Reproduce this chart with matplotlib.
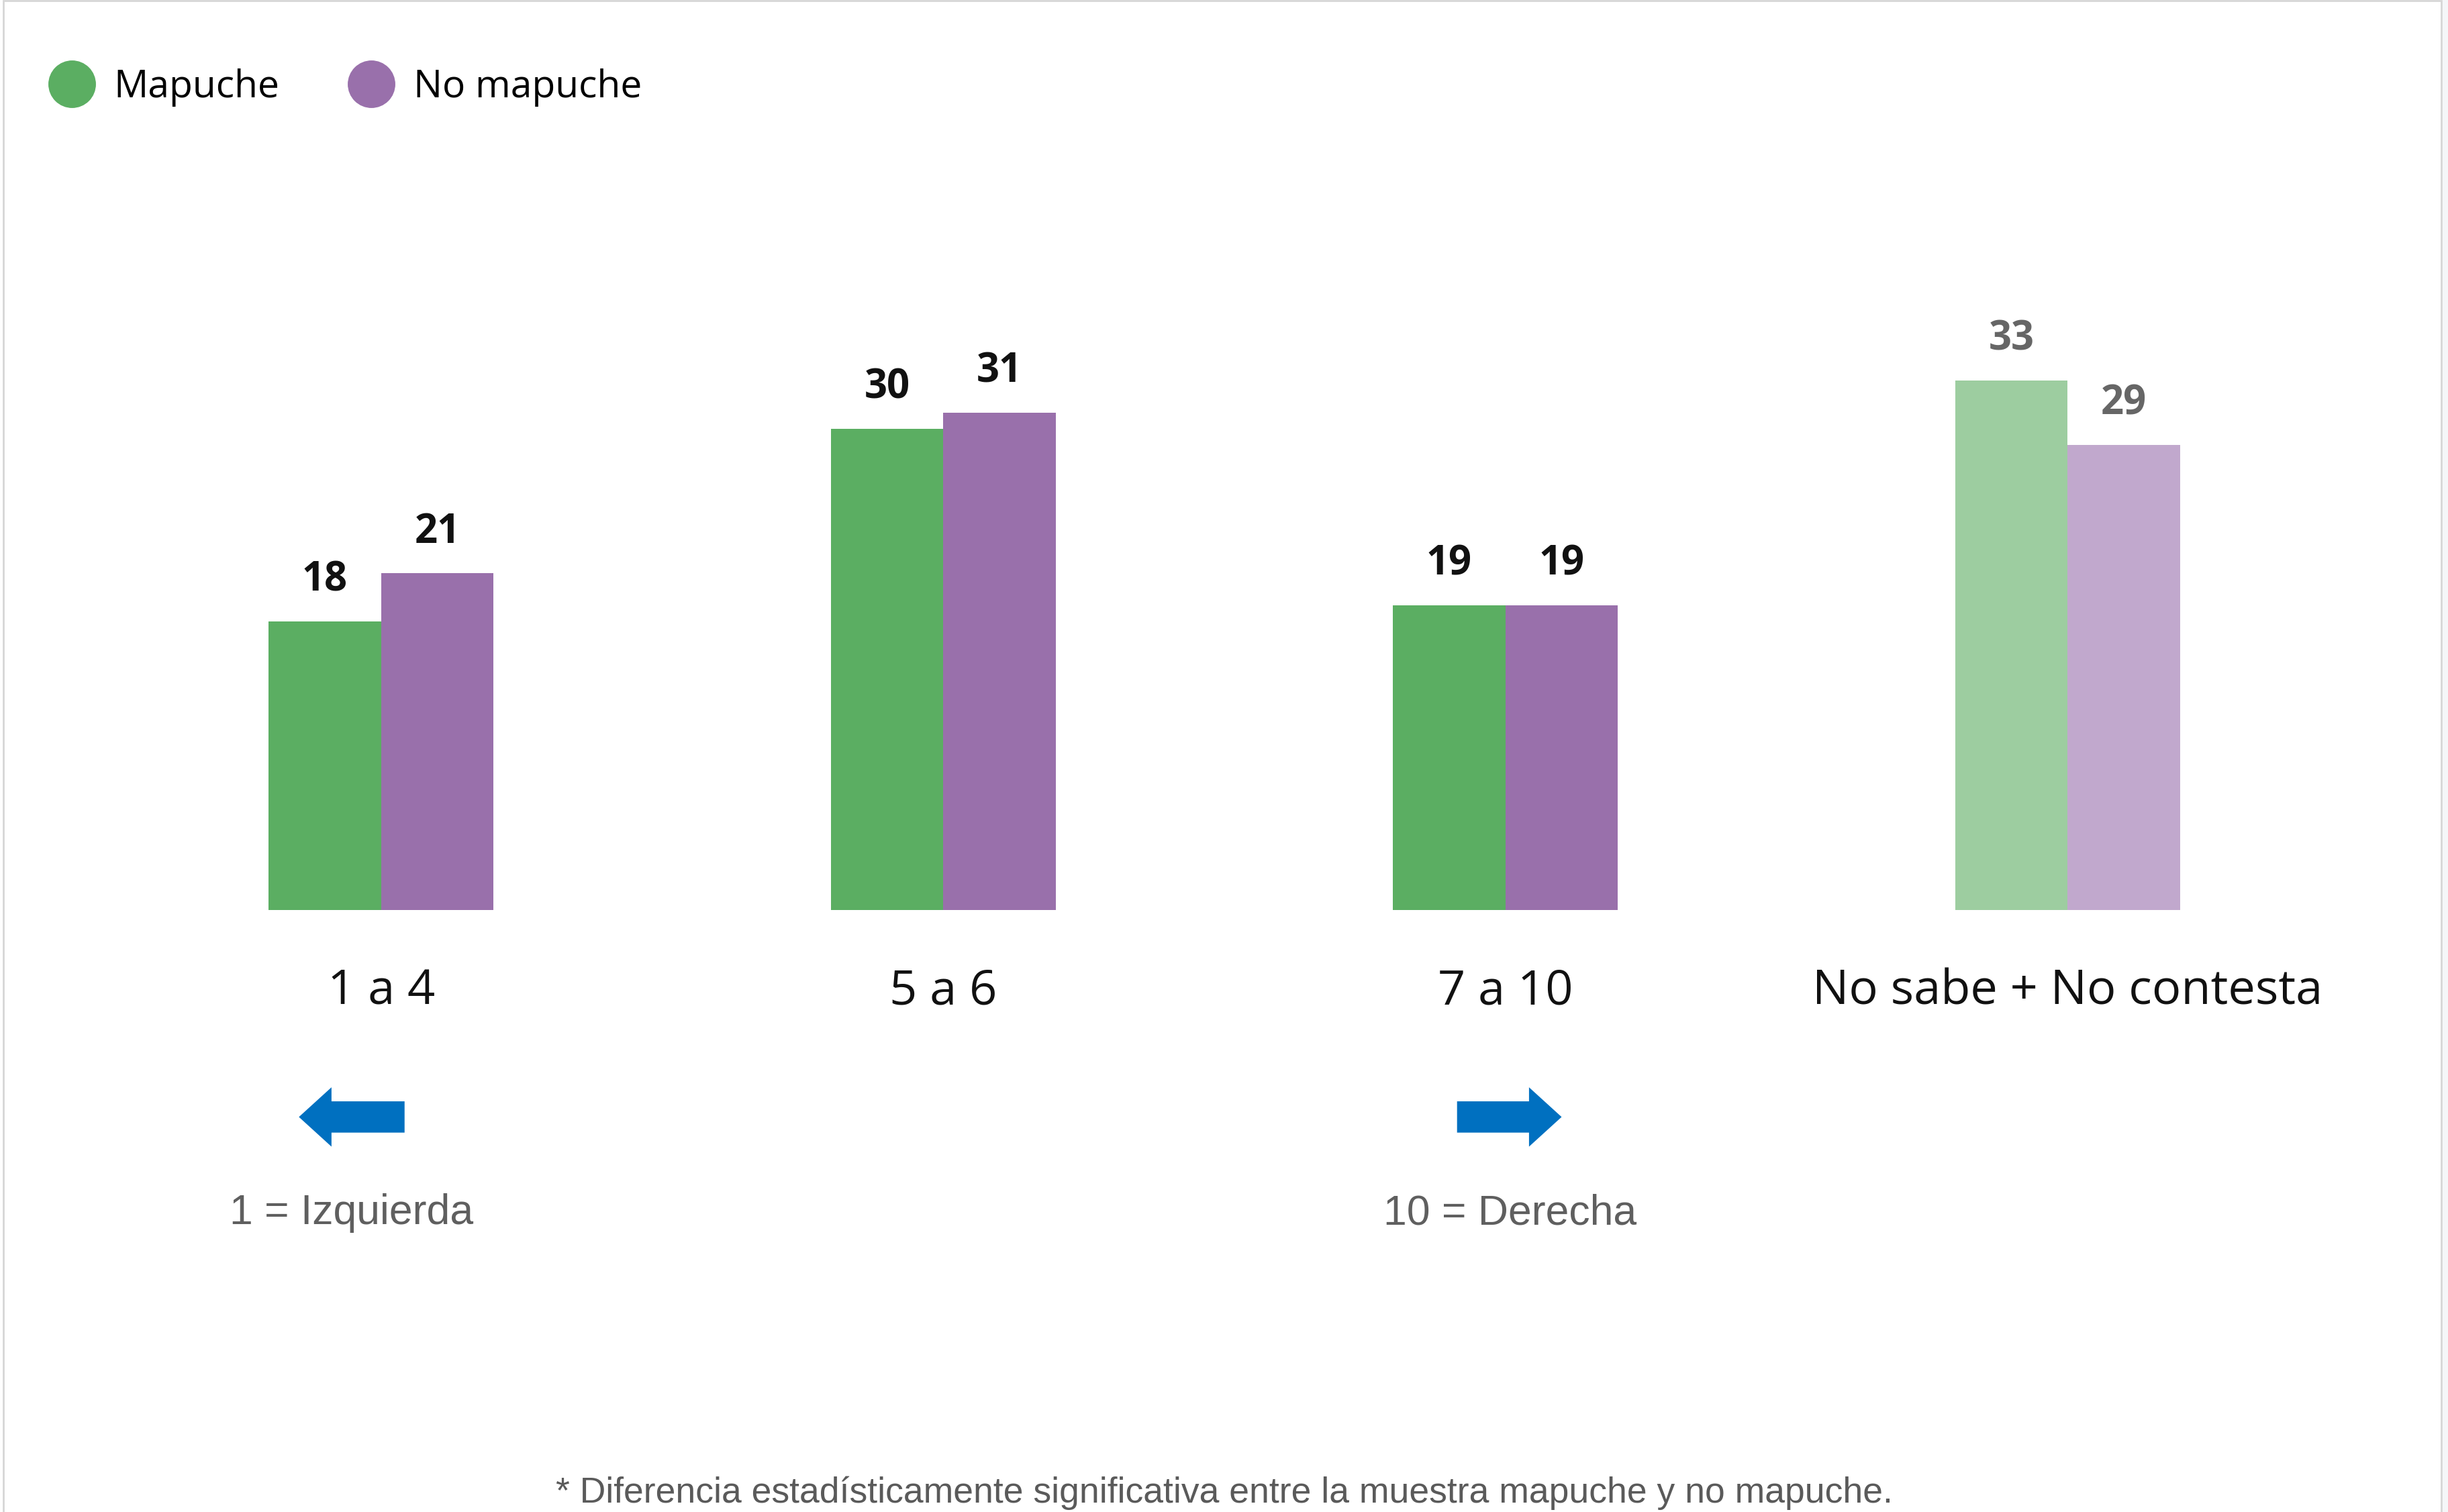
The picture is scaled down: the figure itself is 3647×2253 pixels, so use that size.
import matplotlib
matplotlib.use("Agg")
import matplotlib.pyplot as plt
from matplotlib.patches import FancyArrow, Rectangle
from matplotlib.lines import Line2D

# Datos del gráfico
categorias = ["1 a 4", "5 a 6", "7 a 10", "No sabe + No contesta"]
mapuche = [18, 30, 19, 33]
no_mapuche = [21, 31, 19, 29]
series = ["Mapuche", "No mapuche"]
nota = "* Diferencia estadísticamente significativa entre la muestra mapuche y no mapuche."

verde = ["#5bae62", "#5bae62", "#5bae62", "#9dcda0"]
morado = ["#9970ab", "#9970ab", "#9970ab", "#c1a8cd"]
color_valor = ["#111111", "#111111", "#111111", "#666666"]

W, H = 3648, 2253
fig = plt.figure(figsize=(W / 100, H / 100), dpi=100)
fig.patch.set_facecolor("white")

# marco gris claro
fig.add_artist(Rectangle((0.0015, -0.01), 0.9955, 1.0095, transform=fig.transFigure,
                         fill=False, edgecolor="#d6d6d6", linewidth=2))
fig.add_artist(Rectangle((0.9975, 0), 0.0025, 1, transform=fig.transFigure,
                         facecolor="#f5f6f8", edgecolor="none"))

ax = fig.add_axes([0, 0.3981, 1, 0.4243])
ax.set_xlim(-0.678, 3.678)
ax.set_ylim(0, 40)
ax.axis("off")

x = list(range(len(categorias)))
ancho = 0.2
ax.bar([i - ancho / 2 for i in x], mapuche, width=ancho, color=verde, linewidth=0)
ax.bar([i + ancho / 2 for i in x], no_mapuche, width=ancho, color=morado, linewidth=0)

for i in x:
    ax.text(i - ancho / 2, mapuche[i] + 2.55, str(mapuche[i]), ha="center", va="center",
            fontsize=43, fontweight="bold", family="Open Sans", color=color_valor[i])
    ax.text(i + ancho / 2, no_mapuche[i] + 2.55, str(no_mapuche[i]), ha="center", va="center",
            fontsize=43, fontweight="bold", family="Open Sans", color=color_valor[i])
    ax.text(i, -5.1, categorias[i], ha="center", va="center", fontsize=52,
            family="Open Sans", color="#111111", clip_on=False)

# flechas de escala
ax.add_patch(FancyArrow(0.0417, -12.9, -0.188, 0, width=1.95, head_width=3.7,
                        head_length=0.058, length_includes_head=True,
                        color="#0070c0", linewidth=0, clip_on=False))
ax.add_patch(FancyArrow(1.914, -12.9, 0.186, 0, width=1.95, head_width=3.7,
                        head_length=0.058, length_includes_head=True,
                        color="#0070c0", linewidth=0, clip_on=False))
ax.text(-0.053, -18.9, "1 = Izquierda", ha="center", va="center", fontsize=45,
        family="Liberation Sans", color="#5f5f5f", clip_on=False)
ax.text(2.008, -18.9, "10 = Derecha", ha="center", va="center", fontsize=45,
        family="Liberation Sans", color="#5f5f5f", clip_on=False)

# leyenda
handles = [Line2D([], [], marker="o", linestyle="", markersize=50, color=verde[0]),
           Line2D([], [], marker="o", linestyle="", markersize=50, color=morado[0])]
leg = fig.legend(handles, series, loc="center left", bbox_to_anchor=(0.0075, 0.942),
                 ncol=2, frameon=False, handletextpad=0.6, columnspacing=1.9,
                 prop={"family": "Open Sans", "size": 41}, handlelength=1.0)

fig.text(0.5, 0.0125, nota, ha="center", va="center", fontsize=38.5,
         family="Liberation Sans", color="#5a5a5a")

fig.savefig("out.png", dpi=100)
